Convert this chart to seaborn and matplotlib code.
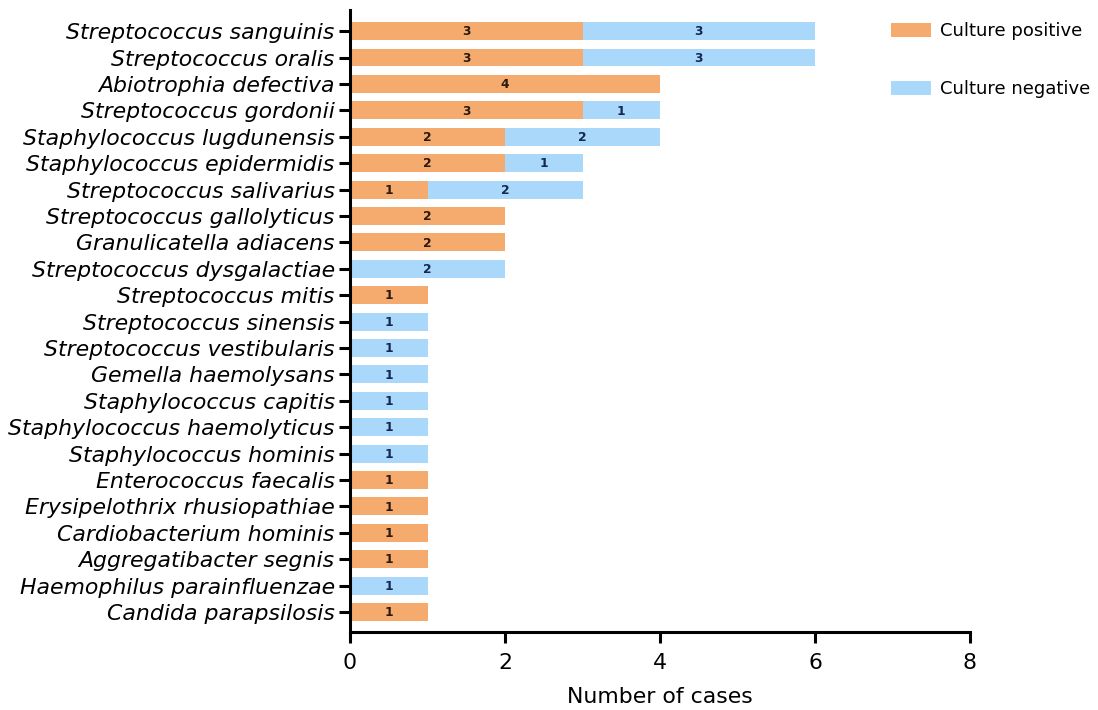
import matplotlib
matplotlib.use("Agg")
import matplotlib.pyplot as plt
import seaborn as sns
import pandas as pd
from matplotlib.patches import Patch

species = [
    "Streptococcus sanguinis", "Streptococcus oralis", "Abiotrophia defectiva",
    "Streptococcus gordonii", "Staphylococcus lugdunensis", "Staphylococcus epidermidis",
    "Streptococcus salivarius", "Streptococcus gallolyticus", "Granulicatella adiacens",
    "Streptococcus dysgalactiae", "Streptococcus mitis", "Streptococcus sinensis",
    "Streptococcus vestibularis", "Gemella haemolysans", "Staphylococcus capitis",
    "Staphylococcus haemolyticus", "Staphylococcus hominis", "Enterococcus faecalis",
    "Erysipelothrix rhusiopathiae", "Cardiobacterium hominis", "Aggregatibacter segnis",
    "Haemophilus parainfluenzae", "Candida parapsilosis",
]
positive = [3, 3, 4, 3, 2, 2, 1, 2, 2, 0, 1, 0, 0, 0, 0, 0, 0, 1, 1, 1, 1, 0, 1]
negative = [3, 3, 0, 1, 2, 1, 2, 0, 0, 2, 0, 1, 1, 1, 1, 1, 1, 0, 0, 0, 0, 1, 0]
x_ticks = [0, 2, 4, 6, 8]

ORANGE = "#F5AA6E"
BLUE = "#A9D8FA"

df = pd.DataFrame({"species": species, "positive": positive, "negative": negative})
df["total"] = df["positive"] + df["negative"]

sns.set_style("white")
plt.rcParams["font.family"] = ["DejaVu Sans"]
plt.rcParams["text.color"] = "black"
plt.rcParams["xtick.color"] = "black"
plt.rcParams["ytick.color"] = "black"
plt.rcParams["axes.labelcolor"] = "black"

fig = plt.figure(figsize=(10.98, 7.10), dpi=100)
ax = fig.add_axes([350 / 1098, 78 / 710, 620 / 1098, 622 / 710])

sns.barplot(data=df, x="total", y="species", color=BLUE, width=0.68,
            saturation=1, ax=ax, orient="h", linewidth=0, edgecolor="none")
sns.barplot(data=df, x="positive", y="species", color=ORANGE, width=0.68,
            saturation=1, ax=ax, orient="h", linewidth=0, edgecolor="none")

for i, (p, n) in enumerate(zip(positive, negative)):
    if p > 0:
        ax.text(p / 2, i + 0.03, str(p), ha="center", va="center", fontsize=8.8,
                fontweight="bold", color="#2a1a10")
    if n > 0:
        ax.text(p + n / 2, i + 0.03, str(n), ha="center", va="center", fontsize=8.8,
                fontweight="bold", color="#142850")

ax.set_xlim(0, 8)
ax.set_ylim(len(species) - 1 + 0.76, -0.8)
ax.set_xticks(x_ticks)
ax.set_xticklabels([str(t) for t in x_ticks], fontsize=15.8)
ax.set_yticks(range(len(species)))
ax.set_yticklabels(species, fontsize=15.8, style="italic")
ax.set_xlabel("Number of cases", fontsize=15.8, labelpad=10)
ax.set_ylabel("")

for s in ["top", "right"]:
    ax.spines[s].set_visible(False)
for s in ["left", "bottom"]:
    ax.spines[s].set_linewidth(2.2)
    ax.spines[s].set_color("black")
ax.tick_params(axis="both", which="major", length=8, width=2.2, color="black",
               left=True, bottom=True)
ax.tick_params(axis="y", pad=3)
ax.tick_params(axis="x", pad=7)

handles = [Patch(facecolor=ORANGE, edgecolor="none", label="Culture positive"),
           Patch(facecolor=BLUE, edgecolor="none", label="Culture negative")]
fig.legend(handles=handles, loc="upper left", bbox_to_anchor=(875 / 1098, 1 - 6 / 710),
           frameon=False, fontsize=13, handlelength=2.2, handleheight=0.8,
           labelspacing=2.2, handletextpad=0.5)

fig.savefig("out.png", dpi=100)
